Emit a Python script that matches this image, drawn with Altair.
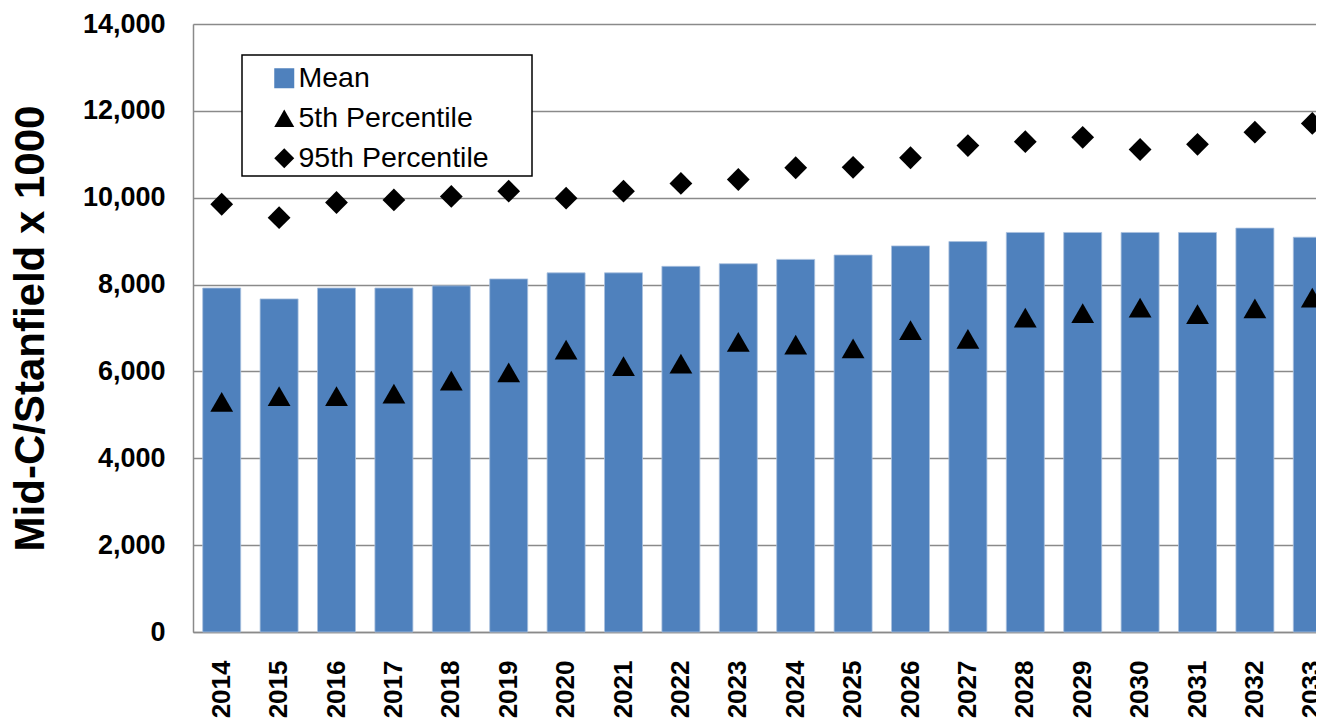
import altair as alt
import pandas as pd

years = [str(y) for y in range(2014, 2034)]
mean_vals = [7920, 7670, 7920, 7920, 7970, 8130, 8270, 8270, 8420, 8480,
             8580, 8680, 8890, 8990, 9200, 9200, 9200, 9200, 9300, 9090]
p5_vals = [5300, 5430, 5430, 5490, 5790, 5980, 6500, 6120, 6180, 6680,
           6620, 6530, 6950, 6750, 7240, 7340, 7470, 7320, 7450, 7700]
p95_vals = [9850, 9540, 9890, 9950, 10030, 10150, 9990, 10150, 10330, 10420,
            10690, 10700, 10920, 11200, 11290, 11390, 11110, 11230, 11510, 11710]
series_names = ["Mean", "5th Percentile", "95th Percentile"]
y_ticks = list(range(0, 14001, 2000))

rows = []
for name, vals in zip(series_names, [mean_vals, p5_vals, p95_vals]):
    for yr, v in zip(years, vals):
        rows.append({"year": yr, "series": name, "value": v})
df = pd.DataFrame(rows)

FONT = "Liberation Sans"
GRID = "#8a8a8a"

x_enc = alt.X("year:O", sort=years, title=None,
              scale=alt.Scale(paddingInner=0.338, paddingOuter=0.169,
                              range=[0, 1148]),
              axis=alt.Axis(labelAngle=-90, labelFont=FONT, labelFontSize=26,
                            labelFontWeight="bold", labelColor="black",
                            labelPadding=28, ticks=False, domainColor=GRID,
                            domainWidth=1.5))
y_enc = alt.Y("value:Q", scale=alt.Scale(domain=[0, 14000], nice=False),
              title="Mid-C/Stanfield x 1000",
              axis=alt.Axis(values=y_ticks, format=",.0f", labelFont=FONT,
                            labelFontSize=27, labelFontWeight="bold",
                            labelColor="black", labelPadding=28, ticks=False,
                            grid=True, gridColor=GRID, gridWidth=1.5,
                            domainColor=GRID, domainWidth=1.5,
                            titleFont=FONT, titleFontSize=42,
                            titleFontWeight="bold", titleColor="black",
                            titleAngle=-90, titleX=-141, titleY=304,
                            titleAlign="center", titleBaseline="bottom"))

color_scale = alt.Scale(domain=series_names, range=["#4F81BD", "black", "black"])
shape_scale = alt.Scale(domain=series_names, range=["square", "triangle-up", "diamond"])
legend = alt.Legend(title=None, orient="none", legendX=49, legendY=30,
                    labelFont=FONT, labelFontSize=28.5, labelColor="black",
                    labelLimit=600,
                    symbolSize=400, symbolStrokeWidth=0, symbolOffset=18,
                    padding=10, rowPadding=11, labelOffset=0)

# legend frame (white box with black border behind the legend entries)
frame = alt.Chart(pd.DataFrame({"frame": [0]})).mark_rect(
    fill="white", stroke="black", strokeWidth=1.5
).encode(
    x=alt.value(49), x2=alt.value(339), y=alt.value(31), y2=alt.value(152)
)

bars = alt.Chart(df).transform_filter(alt.datum.series == "Mean").mark_bar(
    stroke="#a9c0de", strokeWidth=0.8
).encode(
    x=x_enc, y=y_enc,
    color=alt.Color("series:N", scale=color_scale, legend=legend),
)

points = alt.Chart(df).transform_filter(alt.datum.series != "Mean").mark_point(
    filled=True, opacity=1, size=520
).encode(
    x=x_enc, y=y_enc,
    color=alt.Color("series:N", scale=color_scale, legend=legend),
    shape=alt.Shape("series:N", scale=shape_scale, legend=legend),
)

chart = alt.layer(bars, points, frame).properties(
    width=1123, height=608,
    autosize=alt.AutoSizeParams(type="none"),
    padding={"left": 185, "top": 16, "right": 0, "bottom": 87},
).configure_view(stroke=None).configure(background="white")

chart.save("out.html", embed_options={"renderer": "svg", "actions": False})
